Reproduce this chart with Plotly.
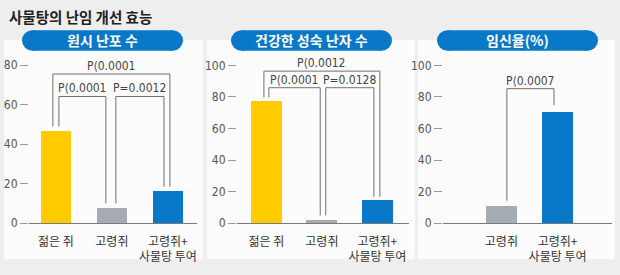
import plotly.graph_objects as go

W, H = 620, 275

title = "사물탕의 난임 개선 효능"
panel_titles = ["원시 난포 수", "건강한 성숙 난자 수", "임신율(%)"]

cats3 = ["젊은 쥐", "고령쥐", "고령쥐+<br>사물탕 투여"]
cats2 = ["고령쥐", "고령쥐+<br>사물탕 투여"]

follicles = [47, 8, 16.5]
mature_eggs = [78, 2.5, 15]
pregnancy = [11, 71]

colors3 = ["#ffcc00", "#a4abb3", "#0a78c8"]
colors2 = ["#a4abb3", "#0a78c8"]

ticks1 = [0, 20, 40, 60, 80]
ticks23 = [0, 20, 40, 60, 80, 100]

pvals1 = ["P⟨0.0001", "P⟨0.0001", "P=0.0012"]   # outer, inner-left, inner-right
pvals2 = ["P⟨0.0012", "P⟨0.0001", "P=0.0128"]
pvals3 = ["P⟨0.0007"]

BLUE = "#0a78c8"
NUM_FONT = "Liberation Sans Narrow, Arial Narrow, DejaVu Sans Condensed, DejaVu Sans, sans-serif"
KR_FONT = "Noto Sans CJK KR, sans-serif"


def px_x(p):
    return p / W


def px_y(p):
    return 1 - p / H


BASE = 229
panels = [
    dict(xl=29, xr=197, ppu=2.025, ymax=100, xrange=[-0.48, 2.52]),
    dict(xl=237, xr=409, ppu=1.62, ymax=110, xrange=[-0.53, 2.57]),
    dict(xl=443, xr=612, ppu=1.62, ymax=110, xrange=[-1.04, 1.97]),
]
boxes = [(4, 203), (207, 415), (418, 615)]
pills = [(22, 183), (231, 392), (437, 598)]

fig = go.Figure()

data = [(cats3, follicles, colors3, 0.54), (cats3, mature_eggs, colors3, 0.56),
        (cats2, pregnancy, colors2, 0.55)]

shapes = []
annotations = []

for (l, r) in boxes:
    shapes.append(dict(type="rect", xref="paper", yref="paper", x0=px_x(l), x1=px_x(r),
                       y0=px_y(266), y1=px_y(41), fillcolor="#fcfcfc", line=dict(width=0),
                       layer="below"))

for i, (cats, vals, cols, bw) in enumerate(data):
    n = i + 1
    xa = "x" if n == 1 else f"x{n}"
    ya = "y" if n == 1 else f"y{n}"
    fig.add_trace(go.Bar(x=list(range(len(cats))), y=vals, marker=dict(color=cols, line=dict(width=0)),
                         width=bw, xaxis=xa, yaxis=ya, showlegend=False, hoverinfo="skip"))
    p = panels[i]
    top = BASE - p["ymax"] * p["ppu"]
    tv = ticks1 if i == 0 else ticks23
    fig.update_layout(**{
        ("xaxis" if n == 1 else f"xaxis{n}"): dict(
            domain=[px_x(p["xl"]), px_x(p["xr"])], anchor=ya, range=p["xrange"],
            tickmode="array", tickvals=list(range(len(cats))), ticktext=cats,
            showline=True, linecolor="#7a7a7a", linewidth=1, showgrid=False, zeroline=False,
            ticks="", ticklabelstandoff=7,
            tickfont=dict(family=KR_FONT, size=12, color="#333333"), fixedrange=True),
        ("yaxis" if n == 1 else f"yaxis{n}"): dict(
            domain=[px_y(BASE), px_y(top)], anchor=xa, range=[0, p["ymax"]],
            tickmode="array", tickvals=tv, ticktext=[str(t) for t in tv],
            ticks="outside", ticklen=8, tickcolor="#9a9a9a", tickwidth=1,
            showline=False, showgrid=False, zeroline=False,
            tickfont=dict(family=NUM_FONT, size=12, color="#555555"), fixedrange=True),
    })

LC = "#707070"


def bracket(xa, ya, xl, xr, ytop, ybl, ybr, label):
    shapes.append(dict(type="path", xref=xa, yref=ya,
                       path=f"M {xl} {ybl} L {xl} {ytop} L {xr} {ytop} L {xr} {ybr}",
                       line=dict(color=LC, width=1)))
    annotations.append(dict(xref=xa, yref=ya, x=(xl + xr) / 2, y=ytop, text=label,
                            showarrow=False, yanchor="bottom", yshift=-1,
                            font=dict(family=NUM_FONT, size=12, color="#444444")))


v = follicles
bracket("x", "y", 0 - 0.054, 2 + 0.036, 75.6, v[0] + 2, v[2] + 2, pvals1[0])
bracket("x", "y", 0 + 0.054, 1 - 0.107, 64.2, v[0] + 2, v[1] + 2, pvals1[1])
bracket("x", "y", 1 + 0.071, 2 - 0.07, 64.2, v[1] + 2, v[2] + 2, pvals1[2])

v = mature_eggs
bracket("x2", "y2", 0 - 0.045, 2 + 0.045, 96.3, v[0] + 1.6, v[2] + 1.7, pvals2[0])
bracket("x2", "y2", 0 + 0.045, 1 - 0.03, 85.8, v[0] + 1.6, v[1] + 2.4, pvals2[1])
bracket("x2", "y2", 1 + 0.07, 2 - 0.063, 85.8, v[1] + 2.4, v[2] + 1.7, pvals2[2])

v = pregnancy
bracket("x3", "y3", 0 + 0.098, 1 - 0.063, 85.2, v[0] + 3.2, v[1] + 3.7, pvals3[0])

PY0, PY1 = 31, 52
r = (PY1 - PY0) / 2
for (l, rr), t in zip(pills, panel_titles):
    shapes.append(dict(type="rect", xref="paper", yref="paper", x0=px_x(l + r), x1=px_x(rr - r),
                       y0=px_y(PY1), y1=px_y(PY0), fillcolor=BLUE, line=dict(width=0)))
    for cx in (l + r, rr - r):
        shapes.append(dict(type="circle", xref="paper", yref="paper", x0=px_x(cx - r), x1=px_x(cx + r),
                           y0=px_y(PY1), y1=px_y(PY0), fillcolor=BLUE, line=dict(width=0)))
    annotations.append(dict(xref="paper", yref="paper", x=px_x((l + rr) / 2), y=px_y((PY0 + PY1) / 2),
                            text=f"<b>{t}</b>", showarrow=False, xanchor="center", yanchor="middle",
                            font=dict(family=KR_FONT, size=14, color="white")))

annotations.append(dict(xref="paper", yref="paper", x=px_x(7), y=px_y(17), text=f"<b>{title}</b>",
                        showarrow=False, xanchor="left", yanchor="middle",
                        font=dict(family=KR_FONT, size=14.5, color="#222222")))

fig.update_layout(width=W, height=H, margin=dict(l=0, r=0, t=0, b=0),
                  paper_bgcolor="#eeeeee", plot_bgcolor="rgba(0,0,0,0)",
                  shapes=shapes, annotations=annotations, bargap=0)

fig.write_html("out.html", config={"displayModeBar": False})
